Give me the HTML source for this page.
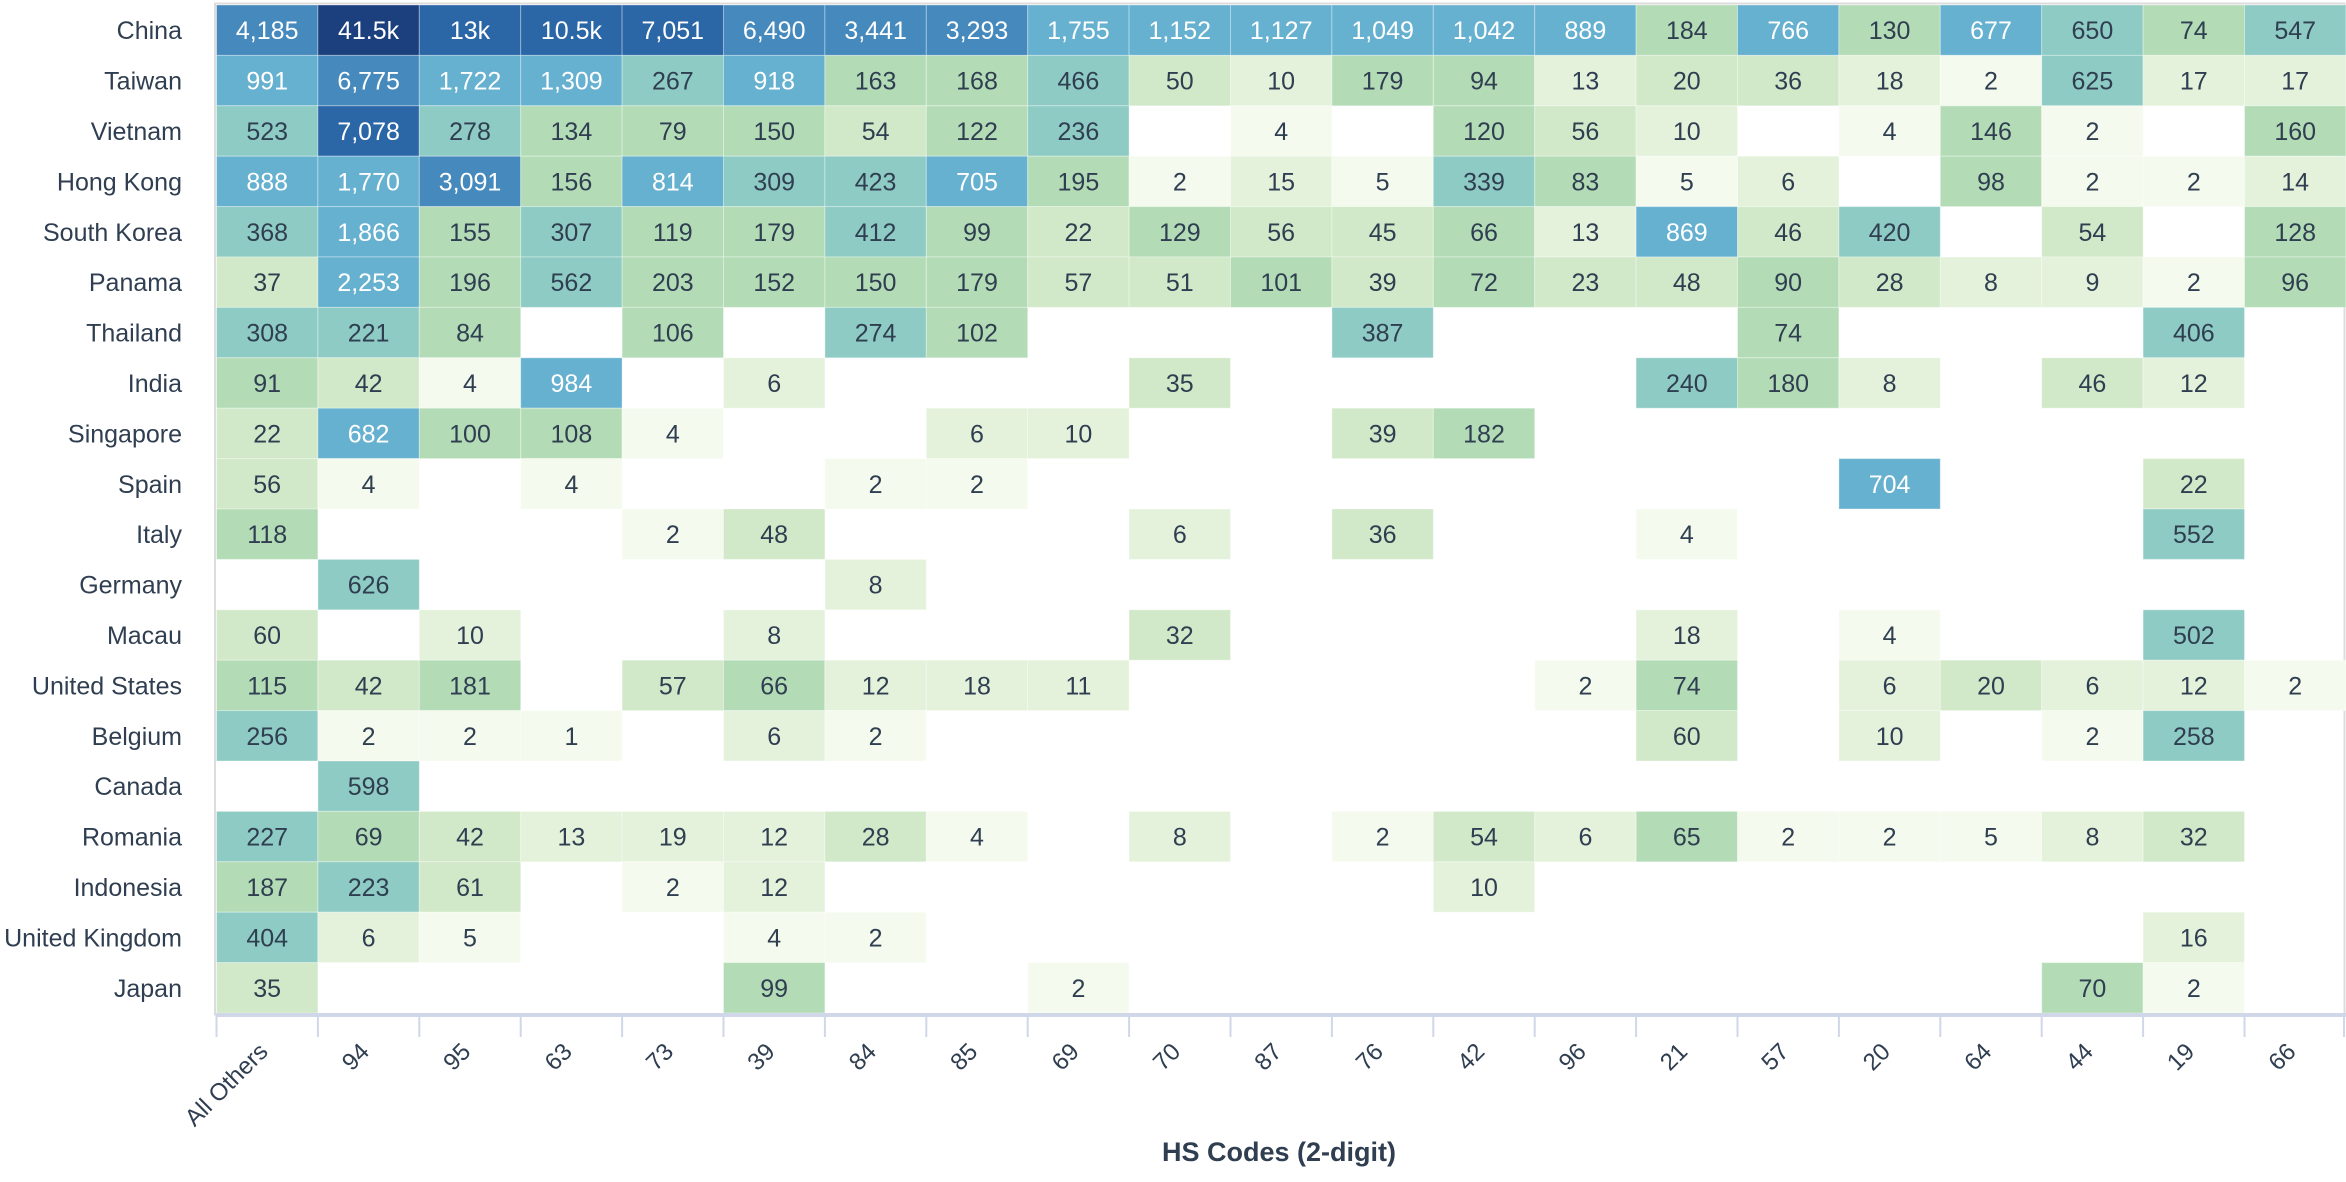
<!DOCTYPE html>
<html><head><meta charset="utf-8"><style>
html,body{margin:0;padding:0;background:#fff;width:2346px;height:1182px;overflow:hidden}
svg text{font-family:"Liberation Sans",sans-serif}
</style></head><body>
<svg id="s" width="2346" height="1182" xmlns="http://www.w3.org/2000/svg"></svg>
<script>
const cols=["All Others","94","95","63","73","39","84","85","69","70","87","76","42","96","21","57","20","64","44","19","66"];
const _=null;
const rows=[
["China",[4185,41500,13000,10500,7051,6490,3441,3293,1755,1152,1127,1049,1042,889,184,766,130,677,650,74,547]],
["Taiwan",[991,6775,1722,1309,267,918,163,168,466,50,10,179,94,13,20,36,18,2,625,17,17]],
["Vietnam",[523,7078,278,134,79,150,54,122,236,_,4,_,120,56,10,_,4,146,2,_,160]],
["Hong Kong",[888,1770,3091,156,814,309,423,705,195,2,15,5,339,83,5,6,_,98,2,2,14]],
["South Korea",[368,1866,155,307,119,179,412,99,22,129,56,45,66,13,869,46,420,_,54,_,128]],
["Panama",[37,2253,196,562,203,152,150,179,57,51,101,39,72,23,48,90,28,8,9,2,96]],
["Thailand",[308,221,84,_,106,_,274,102,_,_,_,387,_,_,_,74,_,_,_,406,_]],
["India",[91,42,4,984,_,6,_,_,_,35,_,_,_,_,240,180,8,_,46,12,_]],
["Singapore",[22,682,100,108,4,_,_,6,10,_,_,39,182,_,_,_,_,_,_,_,_]],
["Spain",[56,4,_,4,_,_,2,2,_,_,_,_,_,_,_,_,704,_,_,22,_]],
["Italy",[118,_,_,_,2,48,_,_,_,6,_,36,_,_,4,_,_,_,_,552,_]],
["Germany",[_,626,_,_,_,_,8,_,_,_,_,_,_,_,_,_,_,_,_,_,_]],
["Macau",[60,_,10,_,_,8,_,_,_,32,_,_,_,_,18,_,4,_,_,502,_]],
["United States",[115,42,181,_,57,66,12,18,11,_,_,_,_,2,74,_,6,20,6,12,2]],
["Belgium",[256,2,2,1,_,6,2,_,_,_,_,_,_,_,60,_,10,_,2,258,_]],
["Canada",[_,598,_,_,_,_,_,_,_,_,_,_,_,_,_,_,_,_,_,_,_]],
["Romania",[227,69,42,13,19,12,28,4,_,8,_,2,54,6,65,2,2,5,8,32,_]],
["Indonesia",[187,223,61,_,2,12,_,_,_,_,_,_,10,_,_,_,_,_,_,_,_]],
["United Kingdom",[404,6,5,_,_,4,2,_,_,_,_,_,_,_,_,_,_,_,_,16,_]],
["Japan",[35,_,_,_,_,99,_,_,2,_,_,_,_,_,_,_,_,_,70,2,_]]];
function col(v){
 if(v>=20000)return["#1c3f7d","#fff"];
 if(v>=7000)return["#2b66a6","#fff"];
 if(v>=3000)return["#4589bd","#fff"];
 if(v>=660)return["#67b1d0","#fff"];
 if(v>=210)return["#8ecbc4","#2f3e50"];
 if(v>=62)return["#b3dcb6","#2f3e50"];
 if(v>=20)return["#d1e9c8","#2f3e50"];
 if(v>=6)return["#e4f2dc","#2f3e50"];
 return["#f5faee","#2f3e50"];
}
function fmt(v){if(v>=10000){let k=v/1000;return (Number.isInteger(k)?k:k.toFixed(1))+"k";}return v.toLocaleString("en-US");}
const L=216.5,T=5,W=101.4,H=50.4;let h="";
h+=`<rect x="${L-1.5}" y="${T-1.5}" width="${2346-L}" height="${20*H+3}" fill="none" stroke="#dcdcdc" stroke-width="2"/>`;
rows.forEach((r,i)=>{const y=T+i*H;
 h+=`<text x="182" y="${y+H/2+9}" text-anchor="end" font-size="25" fill="#2f3e50">${r[0]}</text>`;
 r[1].forEach((v,j)=>{if(v===null)return;const x=L+j*W;const c=col(v);
  h+=`<rect x="${x}" y="${y}" width="${W}" height="${H}" fill="${c[0]}" stroke="#fff" stroke-opacity="0.35" stroke-width="1"/>`;
  h+=`<text x="${x+W/2}" y="${y+H/2+9}" text-anchor="middle" font-size="25" fill="${c[1]}">${fmt(v)}</text>`;});
});
const by=T+20*H;
h+=`<line x1="${L}" y1="${by+2}" x2="2346" y2="${by+2}" stroke="#d0d7e8" stroke-width="4"/>`;
for(let j=0;j<=21;j++){const x=Math.min(L+j*W,2344);h+=`<line x1="${x}" y1="${by}" x2="${x}" y2="${by+24}" stroke="#d0d7e8" stroke-width="2"/>`;}
cols.forEach((c,j)=>{const x=L+j*W+W/2+2,y=by+40;
 h+=`<text x="${x}" y="${y}" text-anchor="end" font-size="24" fill="#2f3e50" transform="rotate(-45 ${x} ${y})">${c}</text>`;});
h+=`<text x="1279" y="1161" text-anchor="middle" font-size="27" font-weight="bold" fill="#2f3e50">HS Codes (2-digit)</text>`;
document.getElementById("s").innerHTML=h;
</script>
</body></html>
